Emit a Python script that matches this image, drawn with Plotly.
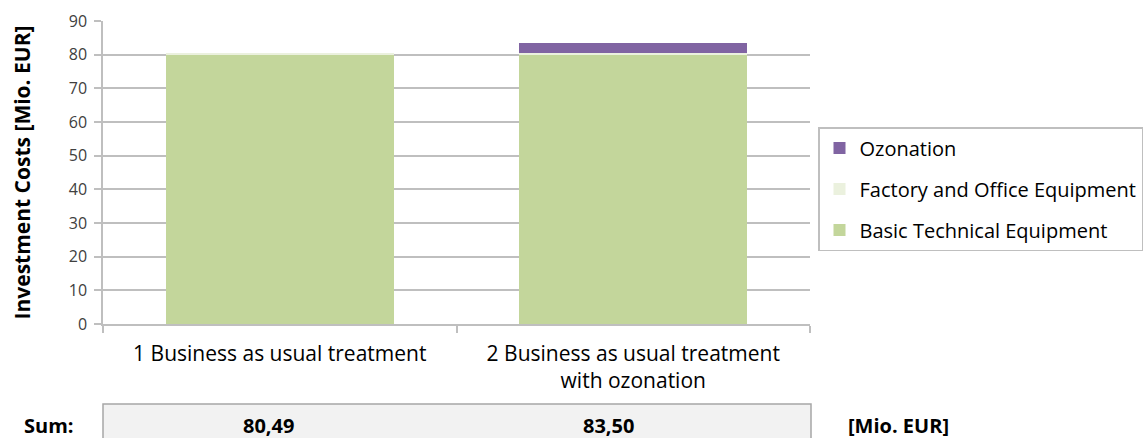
import plotly.graph_objects as go

# Investment cost breakdown per treatment scenario [Mio. EUR]
categories = ["1 Business as usual treatment",
              "2 Business as usual treatment<br>with ozonation"]
basic_technical = [80.00, 80.00]
factory_office = [0.49, 0.49]
ozonation = [0.00, 3.01]

series = [
    ("Basic Technical Equipment", basic_technical, "#C3D69B", 3),
    ("Factory and Office Equipment", factory_office, "#EBF1DE", 2),
    ("Ozonation", ozonation, "#8064A2", 1),
]

FONT = "Open Sans"
W, H = 1147, 438
L, R, T, B = 103, 337, 21, 114
PW, PH = W - L - R, H - T - B


def px_x(x):
    return (x - L) / PW


def px_y(y):
    return (H - B - y) / PH


fig = go.Figure()
for name, vals, color, rank in series:
    fig.add_trace(go.Bar(
        x=categories, y=vals, name=name,
        marker=dict(color=color, line=dict(width=0)),
        legendgroup=name, legendrank=rank,
    ))

sums = [sum(v) for v in zip(basic_technical, factory_office, ozonation)]

# Summary row below the chart
shapes = [
    dict(type="rect", xref="paper", yref="paper",
         x0=0, x1=px_x(811), y0=px_y(404), y1=-0.6,
         fillcolor="#F2F2F2", line=dict(color="#A6A6A6", width=1.5),
         layer="below"),
]

row_y = px_y(425)
bold_font = dict(family=FONT, size=20, color="#000000")
annotations = []
for xpos, s in zip([268, 608], sums):
    annotations.append(dict(
        x=px_x(xpos), xref="paper", y=row_y, yref="paper",
        text=f"<b>{s:.2f}</b>".replace(".", ","), showarrow=False,
        font=bold_font, xanchor="center", yanchor="middle"))
annotations.append(dict(
    x=px_x(49), xref="paper", y=row_y, yref="paper",
    text="<b>Sum:</b>", showarrow=False, font=bold_font,
    xanchor="center", yanchor="middle"))
annotations.append(dict(
    x=px_x(898), xref="paper", y=row_y, yref="paper",
    text="<b>[Mio. EUR]</b>", showarrow=False, font=bold_font,
    xanchor="center", yanchor="middle"))

fig.update_layout(
    width=W, height=H,
    margin=dict(l=L, r=R, t=T, b=B, pad=0, autoexpand=False),
    paper_bgcolor="white", plot_bgcolor="white",
    barmode="stack", bargap=0.355,
    font=dict(family=FONT, color="#000000"),
    showlegend=True,
    legend=dict(
        x=px_x(818), xanchor="left",
        y=px_y(127), yanchor="top",
        traceorder="grouped", tracegroupgap=12,
        font=dict(family=FONT, size=20, color="#000000"),
        bgcolor="white", bordercolor="#BFBFBF", borderwidth=1.5,
    ),
    xaxis=dict(
        showline=True, linecolor="#BFBFBF", linewidth=1.5,
        ticks="outside", ticklen=7, tickcolor="#BFBFBF", tickwidth=1.5,
        tickson="boundaries", showgrid=False,
        tickfont=dict(family=FONT, size=21, color="#000000"),
        ticklabelstandoff=10,
    ),
    yaxis=dict(
        range=[0, 90], dtick=10, tick0=0,
        showline=True, linecolor="#BFBFBF", linewidth=1.5,
        ticks="outside", ticklen=7, tickcolor="#BFBFBF", tickwidth=1.5,
        showgrid=True, gridcolor="#BFBFBF", gridwidth=1.5,
        zeroline=False,
        tickfont=dict(family=FONT, size=16, color="#404040"),
        ticklabelstandoff=4,
        title=dict(text="<b>Investment Costs [Mio. EUR]</b>",
                   font=dict(family=FONT, size=21, color="#000000"),
                   standoff=32),
    ),
    shapes=shapes, annotations=annotations,
)

fig.write_html("out.html")
